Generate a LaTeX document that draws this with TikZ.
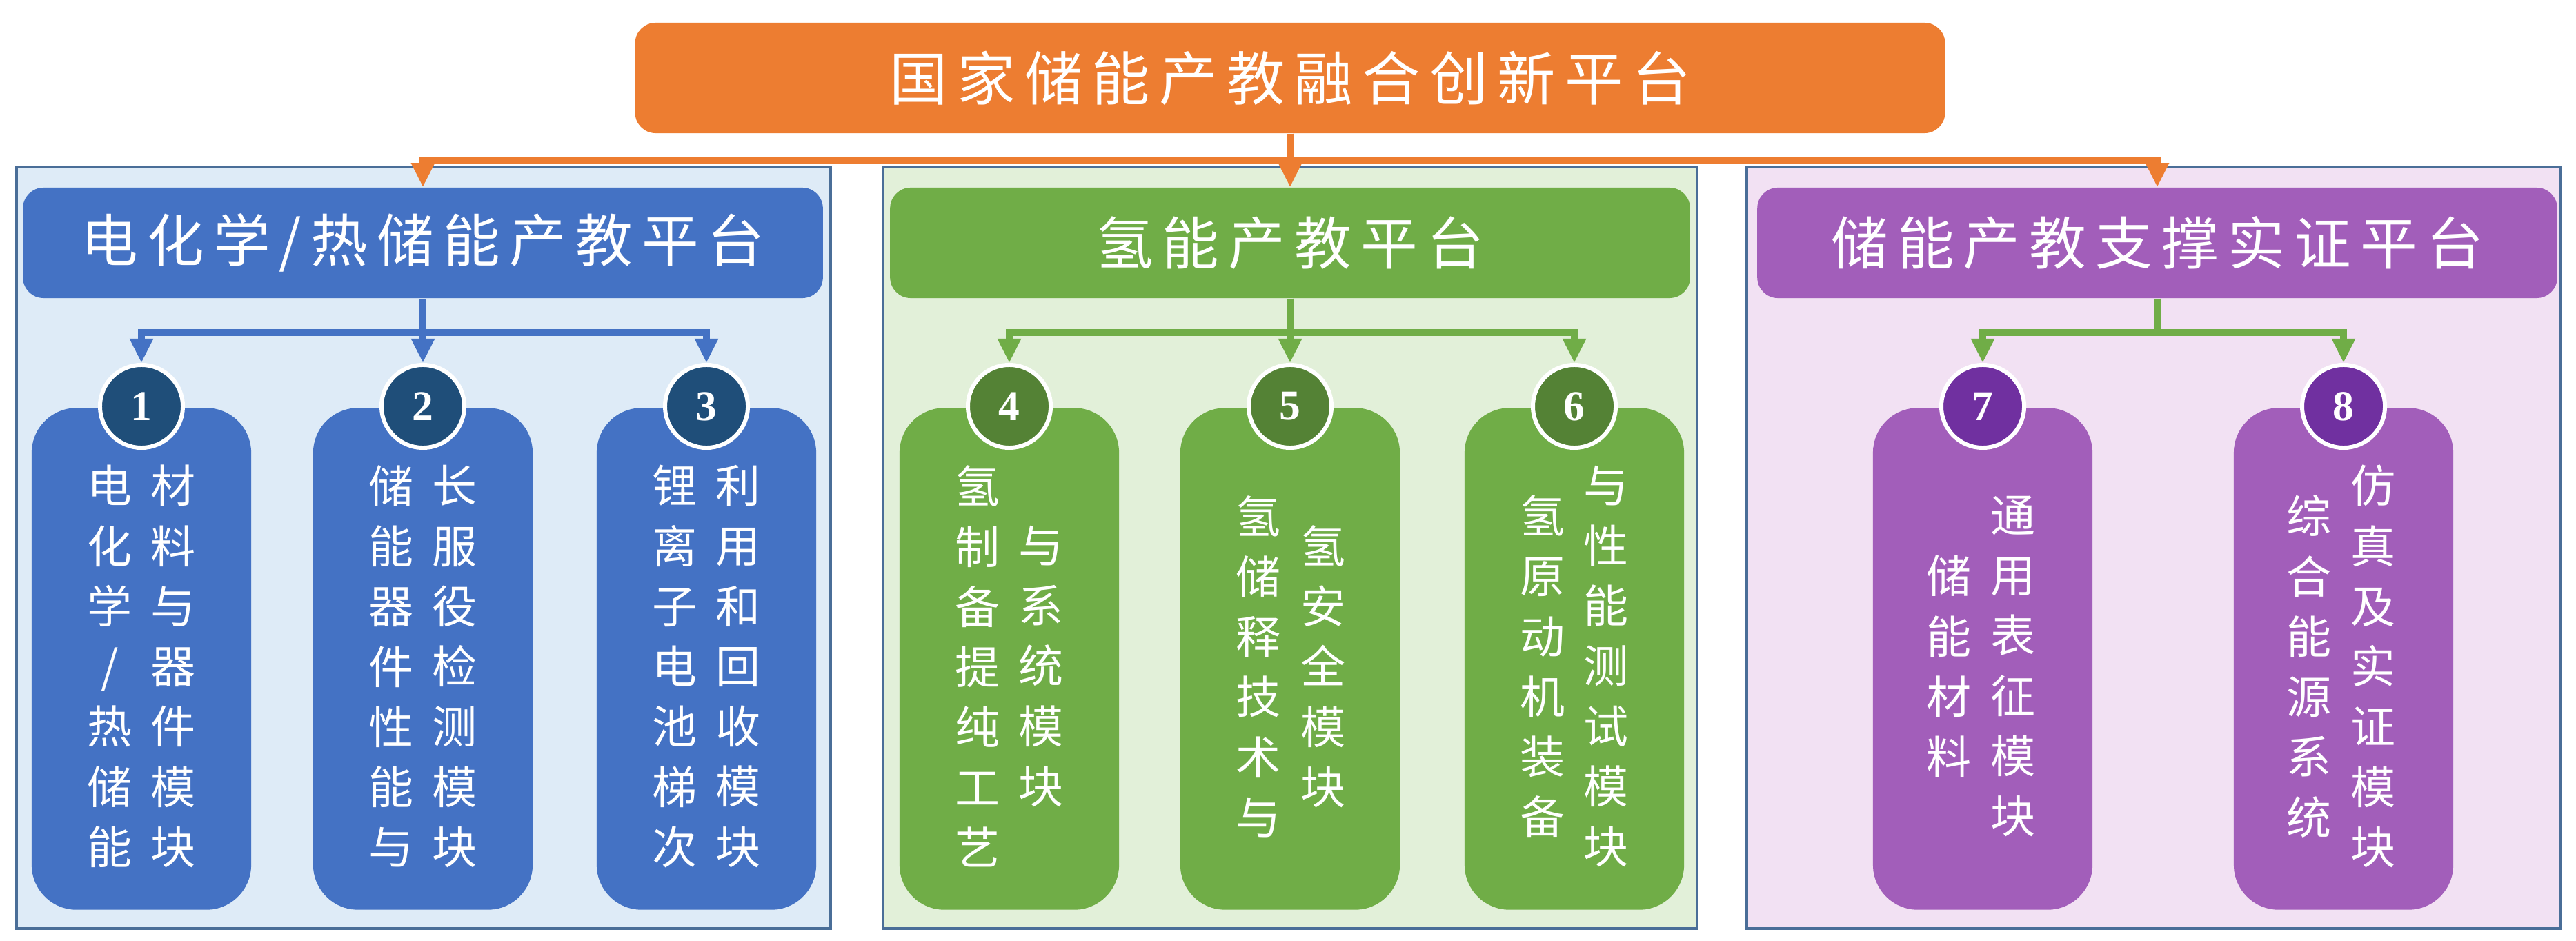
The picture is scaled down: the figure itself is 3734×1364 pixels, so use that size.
\documentclass[tikz,border=0pt]{standalone}
\usepackage{fontspec}
\newfontfamily\cjk{Noto Sans CJK SC}
\newfontfamily\cjkspread[LetterSpace=16]{Noto Sans CJK SC}
\newfontfamily\numfont{Liberation Serif}
\usetikzlibrary{arrows.meta,positioning}
\definecolor{orange1}{HTML}{ED7D31}
\definecolor{frame}{HTML}{4A6E98}
\definecolor{blue1}{HTML}{4472C4}
\definecolor{blue2}{HTML}{1F4E79}
\definecolor{bluebg}{HTML}{DEEBF7}
\definecolor{green1}{HTML}{70AD47}
\definecolor{green2}{HTML}{548235}
\definecolor{greenbg}{HTML}{E2F0D9}
\definecolor{purple1}{HTML}{A25EBA}
\definecolor{purple2}{HTML}{7030A0}
\definecolor{purplebg}{HTML}{F2E1F3}

\begin{document}
\begin{tikzpicture}[x=0.01cm,y=-0.01cm,
          every node/.style={inner sep=0pt},
          plat/.style={fill=orange1,rounded corners=0.3cm,
                       minimum width=18.98cm,minimum height=1.6cm,text=white,
                       font=\cjkspread\fontsize{24pt}{28pt}\selectfont},
          panel/.style={draw=frame,line width=0.04cm,
                        minimum width=11.79cm,minimum height=11.03cm},
          head/.style={rounded corners=0.3cm,minimum width=11.59cm,
                       minimum height=1.6cm,text=white,
                       font=\cjkspread\fontsize{23.5pt}{27pt}\selectfont},
          module/.style={rounded corners=0.65cm,
                         minimum width=3.18cm,minimum height=7.27cm},
          badge/.style={circle,draw=white,line width=0.06cm,minimum size=1.2cm,
                        text=white,font=\numfont\bfseries\fontsize{17.5pt}{20pt}\selectfont},
          col/.style={text=white,align=center,
                      font=\cjk\fontsize{18.5pt}{0.872cm}\selectfont},
          link/.style={line width=0.1cm,line join=miter,
                       -{Triangle[width=0.32cm,length=0.35cm]}},
      ]
        \useasboundingbox (0,0) rectangle (3734,1364);

        % three platform panels
        \node[panel,fill=bluebg]   (p1) at (614,794) {};
        \node[panel,fill=greenbg]  (p2) at (1870,794) {};
        \node[panel,fill=purplebg] (p3) at (3122,794) {};

        \node[plat] (top) at (1870,113) {国家储能产教融合创新平台};

        \node[head,fill=blue1]   (h1) at (613,352) {电化学/热储能产教平台};
        \node[head,fill=green1]  (h2) at (1870,352) {氢能产教平台};
        \node[head,fill=purple1] (h3) at (3127,352) {储能产教支撑实证平台};

        % modules
        \node[module,fill=blue1] (m1) at (205,955) {};
        \node[module,fill=blue1] (m2) at (613,955) {};
        \node[module,fill=blue1] (m3) at (1024,955) {};
        \node[module,fill=green1] (m4) at (1463,955) {};
        \node[module,fill=green1] (m5) at (1870,955) {};
        \node[module,fill=green1] (m6) at (2282,955) {};
        \node[module,fill=purple1] (m7) at (2874,955) {};
        \node[module,fill=purple1] (m8) at (3397,955) {};

        \node[badge,fill=blue2] (c1) at (205,589) {1};
        \node[badge,fill=blue2] (c2) at (613,589) {2};
        \node[badge,fill=blue2] (c3) at (1024,589) {3};
        \node[badge,fill=green2] (c4) at (1463,589) {4};
        \node[badge,fill=green2] (c5) at (1870,589) {5};
        \node[badge,fill=green2] (c6) at (2282,589) {6};
        \node[badge,fill=purple2] (c7) at (2874,589) {7};
        \node[badge,fill=purple2] (c8) at (3397,589) {8};

        % vertical module texts, left column read first
        \node[col] (t1a) at (159,966) {电\\化\\学\\/\\热\\储\\能};
        \node[col] (t1b) at (251,966) {材\\料\\与\\器\\件\\模\\块};
        \node[col] (t2a) at (567,966) {储\\能\\器\\件\\性\\能\\与};
        \node[col] (t2b) at (659,966) {长\\服\\役\\检\\测\\模\\块};
        \node[col] (t3a) at (978,966) {锂\\离\\子\\电\\池\\梯\\次};
        \node[col] (t3b) at (1070,966) {利\\用\\和\\回\\收\\模\\块};
        \node[col] (t4a) at (1417,966) {氢\\制\\备\\提\\纯\\工\\艺};
        \node[col] (t4b) at (1509,966) {与\\系\\统\\模\\块};
        \node[col] (t5a) at (1824,966) {氢\\储\\释\\技\\术\\与};
        \node[col] (t5b) at (1918,966) {氢\\安\\全\\模\\块};
        \node[col] (t6a) at (2236,966) {氢\\原\\动\\机\\装\\备};
        \node[col] (t6b) at (2328,966) {与\\性\\能\\测\\试\\模\\块};
        \node[col] (t7a) at (2825,966) {储\\能\\材\\料};
        \node[col] (t7b) at (2918,966) {通\\用\\表\\征\\模\\块};
        \node[col] (t8a) at (3347,966) {综\\合\\能\\源\\系\\统};
        \node[col] (t8b) at (3440,966) {仿\\真\\及\\实\\证\\模\\块};

        % connectors
        \draw[link,orange1] (top.south) -- ++(0,39) -| (h1.north);
        \draw[link,orange1] (top.south) -- ++(0,39) -| (h3.north);
        \draw[link,orange1] (top.south) -- (h2.north);

        \draw[link,blue1] (h1.south) -- ++(0,49) -| (c1.north);
        \draw[link,blue1] (h1.south) -- ++(0,49) -| (c3.north);
        \draw[link,blue1] (h1.south) -- (c2.north);

        \draw[link,green1] (h2.south) -- ++(0,49) -| (c4.north);
        \draw[link,green1] (h2.south) -- ++(0,49) -| (c6.north);
        \draw[link,green1] (h2.south) -- (c5.north);

        % branch lines of the third panel are green as well
        \draw[link,green1] (h3.south) -- ++(0,49) -| (c7.north);
        \draw[link,green1] (h3.south) -- ++(0,49) -| (c8.north);
      \end{tikzpicture}
\end{document}
